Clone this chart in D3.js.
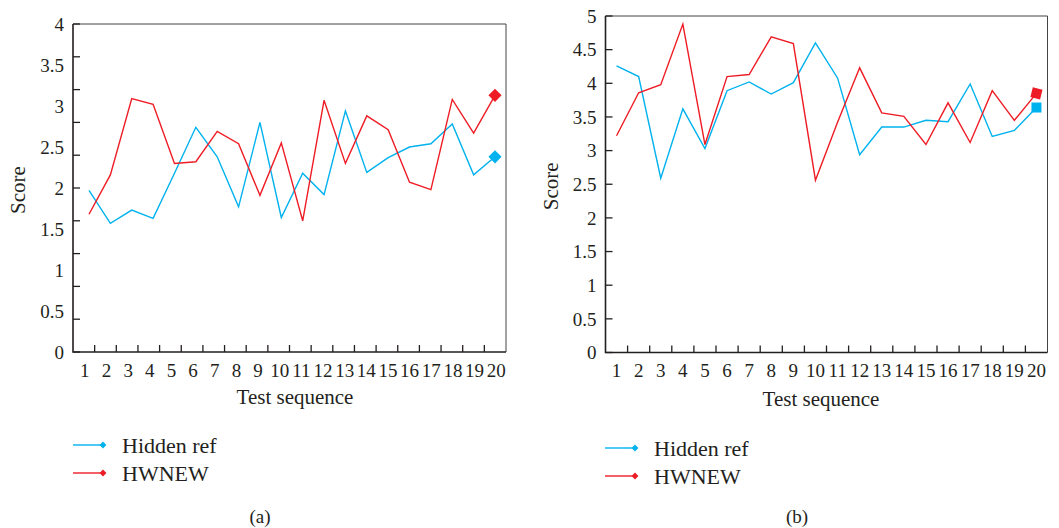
<!DOCTYPE html>
<html>
<head>
<meta charset="utf-8">
<script src="https://cdn.jsdelivr.net/npm/d3@7"></script>
<style>
  body { margin: 0; background: #fff; }
  svg text { font-family: "Liberation Serif", "DejaVu Serif", serif; fill: #231f20; }
</style>
</head>
<body>
<svg id="chart" width="1059" height="528"></svg>
<script>
// test sequence 1..20
let sequence = d3.range(1, 21);

// panel (a)
let hiddenRefA = [1.97,1.57,1.73,1.63,2.18,2.74,2.38,1.77,2.80,1.64,2.18,1.92,2.94,2.19,2.37,2.50,2.54,2.78,2.16,2.38];
let hwnewA     = [1.68,2.16,3.09,3.02,2.30,2.32,2.69,2.54,1.91,2.55,1.60,3.07,2.30,2.88,2.71,2.07,1.98,3.08,2.67,3.13];
let yLabelsA = [0,0.5,1,1.5,2,2.5,3,3.5,4];

// panel (b)
let hiddenRefB = [4.26,4.10,2.59,3.62,3.03,3.89,4.02,3.84,4.01,4.60,4.08,2.94,3.35,3.35,3.45,3.43,3.99,3.21,3.30,3.64];
let hwnewB     = [3.22,3.86,3.98,4.88,3.09,4.10,4.13,4.69,4.59,2.56,3.42,4.23,3.56,3.51,3.09,3.71,3.12,3.89,3.45,3.85];
let yLabelsB = [0,0.5,1,1.5,2,2.5,3,3.5,4,4.5,5];

let seriesNames = ["Hidden ref", "HWNEW"];
let blue = "#00b2ee", red = "#ee1c25";

let svg = d3.select("#chart");

function drawPanel(opt) {
  let g = svg.append("g");
  let L = opt.left, R = opt.right, T = opt.top, B = opt.bottom;

  let band = d3.scaleBand().domain(sequence).range([L, R]);
  let x = opt.dataRange ? d3.scaleLinear().domain([1, 20]).range(opt.dataRange)
                        : (d => band(d) + band.bandwidth() / 2);
  let y = d3.scaleLinear().domain([0, opt.yMax]).range([B, T]);

  // frame (top/right)
  g.append("path")
    .attr("d", `M${L},${T}H${R}V${B}`)
    .attr("fill", "none").attr("stroke", "#444").attr("stroke-width", 1);

  // y tick marks (inward)
  g.selectAll(".yt").data(opt.yTicks).enter().append("line")
    .attr("x1", L).attr("x2", L + 7)
    .attr("y1", d => y(d)).attr("y2", d => y(d))
    .attr("stroke", "#231f20").attr("stroke-width", 1.3);
  g.selectAll(".yl").data(opt.yLabels).enter().append("text")
    .attr("x", L - 9).attr("y", d => y(d)).attr("dy", "0.35em")
    .attr("text-anchor", "end").attr("font-size", 19)
    .text(d => d);

  // x tick marks at band boundaries (inward)
  g.selectAll(".xt").data(sequence.slice(1)).enter().append("line")
    .attr("x1", d => band(d)).attr("x2", d => band(d))
    .attr("y1", B).attr("y2", B - 7)
    .attr("stroke", "#231f20").attr("stroke-width", 1.3);
  g.selectAll(".xl").data(sequence).enter().append("text")
    .attr("x", d => band(d) + band.bandwidth() / 2 + (opt.labelShift || 0))
    .attr("y", B + 18).attr("dy", "0.35em")
    .attr("text-anchor", "middle").attr("font-size", 19)
    .text(d => d);

  // axes
  g.append("path")
    .attr("d", `M${L},${T}V${B}H${R}`)
    .attr("fill", "none").attr("stroke", "#231f20").attr("stroke-width", 1.6);

  let line = d3.line().x((d, i) => x(sequence[i])).y(d => y(d));
  let series = [[opt.hidden, blue], [opt.hwnew, red]];
  series.forEach(([vals, col]) => {
    g.append("path").datum(vals)
      .attr("d", line)
      .attr("fill", "none").attr("stroke", col).attr("stroke-width", 1.4);
    let lx = x(20), ly = y(vals[19]);
    if (opt.marker === "diamond") {
      g.append("path")
        .attr("d", d3.symbol(d3.symbolDiamond2, 110)())
        .attr("transform", `translate(${lx},${ly}) scale(1,1)`)
        .attr("fill", col);
    } else {
      g.append("rect")
        .attr("x", -5).attr("y", -5).attr("width", 10).attr("height", 10)
        .attr("transform", `translate(${lx},${ly}) rotate(${col === red ? 14 : 0})`)
        .attr("fill", col);
    }
  });

  // axis titles
  g.append("text")
    .attr("transform", `translate(${opt.scoreX},${(T + B) / 2 + 2}) rotate(-90)`)
    .attr("text-anchor", "middle").attr("dy", "0.35em").attr("font-size", 21)
    .text("Score");
  g.append("text")
    .attr("x", opt.titleX).attr("y", opt.titleY).attr("dy", "0.35em")
    .attr("text-anchor", "middle").attr("font-size", 21)
    .text("Test sequence");

  // legend
  let leg = g.selectAll(".leg").data(seriesNames).enter().append("g")
    .attr("transform", (d, i) => `translate(${opt.legX},${opt.legY + i * 28})`);
  leg.append("line").attr("x1", 0).attr("x2", 30).attr("y1", 0).attr("y2", 0)
    .attr("stroke", (d, i) => i ? red : blue).attr("stroke-width", 1.4);
  leg.append("path").attr("d", d3.symbol(d3.symbolDiamond2, 30)())
    .attr("transform", "translate(30,0)")
    .attr("fill", (d, i) => i ? red : blue);
  leg.append("text").attr("x", 49).attr("dy", "0.35em").attr("font-size", 22)
    .text(d => d);

  g.append("text")
    .attr("x", opt.capX).attr("y", 516).attr("dy", "0.35em")
    .attr("text-anchor", "middle").attr("font-size", 19)
    .text(opt.caption);
}

drawPanel({
  left: 73, right: 506, top: 24, bottom: 352, yMax: 4,
  yTicks: d3.range(0, 4.01, 0.4), yLabels: yLabelsA,
  dataRange: [89, 495], labelShift: 1,
  hidden: hiddenRefA, hwnew: hwnewA, marker: "diamond",
  scoreX: 18, titleX: 295, titleY: 397,
  legX: 73, legY: 445, capX: 260, caption: "(a)"
});

drawPanel({
  left: 605.5, right: 1047.5, top: 16, bottom: 352.5, yMax: 5,
  yTicks: yLabelsB, yLabels: yLabelsB,
  hidden: hiddenRefB, hwnew: hwnewB, marker: "square",
  scoreX: 551, titleX: 821, titleY: 399,
  legX: 605, legY: 448, capX: 797, caption: "(b)"
});
</script>
</body>
</html>
